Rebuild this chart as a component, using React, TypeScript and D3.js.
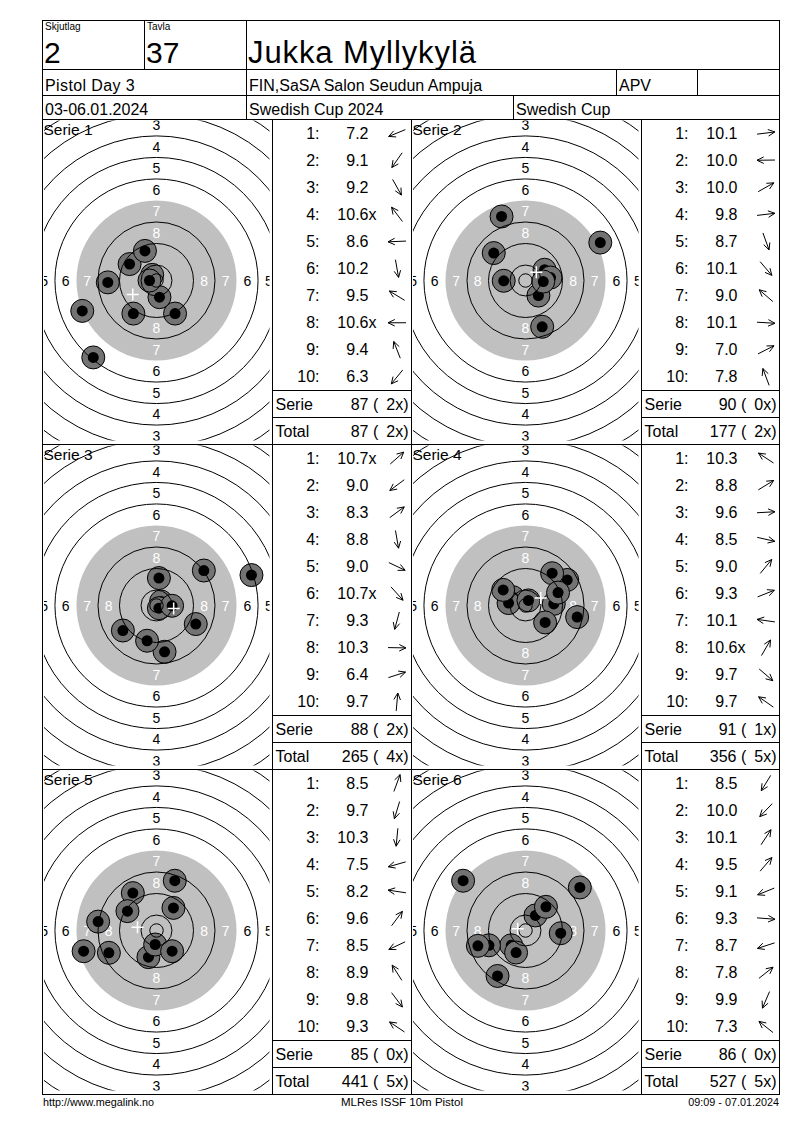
import * as d3 from "d3";

const FONT = "'Liberation Sans', Arial, sans-serif";

// header
const shooterName = "Jukka Myllykylä";
const relay = "2";
const lane = "37";
const eventName = "Pistol Day 3";
const clubName = "FIN,SaSA Salon Seudun Ampuja";
const classCode = "APV";
const dates = "03-06.01.2024";
const competition = "Swedish Cup 2024";
const cupName = "Swedish Cup";
const footerLeft = "http://www.megalink.no";
const footerMid = "MLRes ISSF 10m Pistol";
const footerRight = "09:09 - 07.01.2024";

// shot values per series ("x" = inner ten)
const series1Scores = ["7.2", "9.1", "9.2", "10.6x", "8.6", "10.2", "9.5", "10.6x", "9.4", "6.3"];
const series2Scores = ["10.1", "10.0", "10.0", "9.8", "8.7", "10.1", "9.0", "10.1", "7.0", "7.8"];
const series3Scores = ["10.7x", "9.0", "8.3", "8.8", "9.0", "10.7x", "9.3", "10.3", "6.4", "9.7"];
const series4Scores = ["10.3", "8.8", "9.6", "8.5", "9.0", "9.3", "10.1", "10.6x", "9.7", "9.7"];
const series5Scores = ["8.5", "9.7", "10.3", "7.5", "8.2", "9.6", "8.5", "8.9", "9.8", "9.3"];
const series6Scores = ["8.5", "10.0", "10.1", "9.5", "9.1", "9.3", "8.7", "7.8", "9.9", "7.3"];

// shot positions, mm from target centre (x right, y down)
const series1Shots = [[-27.6, 11.3], [-8.6, 12.3], [6.9, 12.3], [-1.6, -2.1], [-18.1, 0.7], [1.1, 6.2], [-10.0, -6.1], [-2.6, 0], [-4.3, -11.0], [-23.5, 28.6]];
const series2Shots = [[7.2, -0.9], [-8.1, 0.1], [7.1, -4.0], [9.3, -1.1], [6.2, 17.2], [4.8, 5.6], [-11.8, -10.2], [6.6, 0.4], [27.8, -14.1], [-8.9, -23.8]];
const series3Shots = [[1.7, -1.5], [-12.5, 9.3], [17.6, -13.0], [3.0, 17.2], [14.6, 6.9], [0.9, 1.0], [-3.5, 13.1], [5.8, 0.1], [35.3, -11.3], [0.9, -10.2]];
const series4Shots = [[-4.7, -3.1], [15.5, -9.5], [10.5, -0.6], [19.2, 4.3], [9.9, -12.0], [12.1, -4.8], [-6.3, -0.9], [1.1, -1.9], [7.3, 6.3], [-8.3, -5.8]];
const series5Shots = [[6.8, -18.5], [-3.0, 9.9], [-0.5, 5.2], [-27.1, 7.7], [-21.7, -3.3], [6.3, -8.4], [-17.7, 8.3], [-8.8, -13.9], [5.8, 7.7], [-10.8, -7.2]];
const series6Shots = [[-10.4, 16.9], [-5.3, 5.5], [3.7, -5.6], [7.6, -8.8], [-13.6, 5.5], [13.1, 1.0], [-17.7, 5.7], [20.2, -16.0], [-3.5, 8.2], [-23.2, -18.5]];

const allScores = [series1Scores, series2Scores, series3Scores, series4Scores, series5Scores, series6Scores];
const allShots = [series1Shots, series2Shots, series3Shots, series4Shots, series5Shots, series6Shots];

// ISSF 10m air pistol target, radii in mm
const ringLines = [2.5, 5.75, 13.75, 21.75, 37.75, 45.75, 53.75, 61.75, 69.75, 77.75];
const blackRadius = 29.75;
const ringLabels = [8, 7, 6, 5, 4, 3];

// layout
const L = 42.5, R = 779.5;
const headerY = [20.5, 69.5, 95.5, 119.5];
const rowH = 325;
const targetW = 230;
const tableW = [139, 138];

const mm = d3.scaleLinear().domain([0, 1]).range([0, 2.69]);

function fmt(total, xs) {
  return `${total} (${String(xs).padStart(2, "\u2002")}x)`;
}

function Arrow({ cx, cy, dx, dy }) {
  const a = Math.atan2(dy, dx);
  const len = 18, head = 7.5, spread = 0.45;
  const tx = cx + (len / 2) * Math.cos(a), ty = cy + (len / 2) * Math.sin(a);
  const sx = cx - (len / 2) * Math.cos(a), sy = cy - (len / 2) * Math.sin(a);
  const h1x = tx - head * Math.cos(a - spread), h1y = ty - head * Math.sin(a - spread);
  const h2x = tx - head * Math.cos(a + spread), h2y = ty - head * Math.sin(a + spread);
  return (
    <path
      d={`M${sx},${sy}L${tx},${ty}M${h1x},${h1y}L${tx},${ty}L${h2x},${h2y}`}
      fill="none"
      stroke="#000"
      strokeWidth={1}
    />
  );
}

function Target({ i, left, top }) {
  const cx = left + 114;
  const cy = top + 161;
  const shots = allShots[i];
  const meanX = d3.mean(shots, (d) => d[0]);
  const meanY = d3.mean(shots, (d) => d[1]);
  const clipId = `clip-${i}`;
  const labelR = (v) => mm(5.75 + (10 - v) * 8 - 4);
  return (
    <g>
      <clipPath id={clipId}>
        <rect x={left + 1.5} y={top + 1} width={targetW - 4.5} height={rowH - 5} />
      </clipPath>
      <g clipPath={`url(#${clipId})`}>
        <circle cx={cx} cy={cy} r={mm(blackRadius)} fill="#c0c0c0" />
        {ringLabels.map((v) => {
          const r = labelR(v);
          const fill = v >= 7 ? "#fff" : "#000";
          return [
            [0, -r], [0, r], [-r, 0], [r, 0],
          ].map(([ox, oy], k) => (
            <text
              key={`${v}-${k}`}
              x={cx + ox}
              y={cy + oy}
              dy="0.36em"
              textAnchor="middle"
              fontSize={14}
              fill={fill}
            >
              {v}
            </text>
          ));
        })}
        {shots.map(([x, y], k) => (
          <g key={k}>
            <circle cx={cx + mm(x)} cy={cy + mm(y)} r={11.5} fill="#737373" stroke="#000" strokeWidth={1} />
            <circle cx={cx + mm(x)} cy={cy + mm(y)} r={5.5} fill="#000" />
          </g>
        ))}
        {ringLines.map((r) => (
          <circle key={r} cx={cx} cy={cy} r={mm(r)} fill="none" stroke="#000" strokeWidth={1} />
        ))}
        <path
          d={`M${cx + mm(meanX) - 6},${cy + mm(meanY)}h12M${cx + mm(meanX)},${cy + mm(meanY) - 6}v12`}
          stroke="#fff"
          strokeWidth={1.5}
        />
      </g>
      <text x={left + 1} y={top + 15} fontSize={15.5} fill="#000">
        {`Serie ${i + 1}`}
      </text>
    </g>
  );
}

function ScoreTable({ i, left, top, width, serieText, totalText }) {
  const scores = allScores[i];
  const shots = allShots[i];
  const shotRowH = 27.1;
  const right = left + width;
  return (
    <g fontSize={16} fill="#000">
      {scores.map((s, k) => {
        const cy = top + shotRowH * (k + 0.5);
        const inner = s.endsWith("x");
        return (
          <g key={k}>
            <text x={left + 47} y={cy + 5.5} textAnchor="end">{`${k + 1}:`}</text>
            <text x={left + 96 + (inner ? 8 : 0)} y={cy + 5.5} textAnchor="end">{s}</text>
            <Arrow cx={left + 124.5} cy={cy} dx={shots[k][0]} dy={shots[k][1]} />
          </g>
        );
      })}
      <line x1={left} x2={right} y1={top + 271} y2={top + 271} stroke="#000" />
      <line x1={left} x2={right} y1={top + 298} y2={top + 298} stroke="#000" />
      <text x={left + 3} y={top + 290}>Serie</text>
      <text x={right - 3} y={top + 290} textAnchor="end">{serieText}</text>
      <text x={left + 3} y={top + 317}>Total</text>
      <text x={right - 3} y={top + 317} textAnchor="end">{totalText}</text>
    </g>
  );
}

export default function App() {
  let runTotal = 0;
  let runX = 0;
  const panels = allScores.map((scores, i) => {
    const serie = d3.sum(scores, (s) => Math.floor(parseFloat(s)));
    const xs = scores.filter((s) => s.endsWith("x")).length;
    runTotal += serie;
    runX += xs;
    const col = i % 2;
    const row = Math.floor(i / 2);
    const top = headerY[3] + row * rowH;
    const tLeft = col === 0 ? L : L + targetW + tableW[0];
    const tabLeft = tLeft + targetW;
    return { i, top, tLeft, tabLeft, tabW: tableW[col], serieText: fmt(serie, xs), totalText: fmt(runTotal, runX) };
  });
  const bottom = headerY[3] + 3 * rowH;

  return (
    <svg
      width={800}
      height={1130}
      style={{ position: "absolute", left: 0, top: 0 }}
      fontFamily={FONT}
    >
      <rect width={800} height={1130} fill="#fff" />
      {panels.map((p) => (
        <g key={p.i}>
          <Target i={p.i} left={p.tLeft} top={p.top} />
          <ScoreTable i={p.i} left={p.tabLeft} top={p.top} width={p.tabW} serieText={p.serieText} totalText={p.totalText} />
          <line x1={p.tabLeft} x2={p.tabLeft} y1={p.top} y2={p.top + rowH} stroke="#000" />
        </g>
      ))}
      {[1, 2].map((r) => (
        <line key={r} x1={L} x2={R} y1={headerY[3] + r * rowH} y2={headerY[3] + r * rowH} stroke="#000" />
      ))}
      <line x1={L + targetW + tableW[0]} x2={L + targetW + tableW[0]} y1={headerY[3]} y2={bottom} stroke="#000" />

      {/* header grid */}
      <rect x={L} y={headerY[0]} width={R - L} height={bottom - headerY[0]} fill="none" stroke="#000" />
      {headerY.slice(1).map((y) => (
        <line key={y} x1={L} x2={R} y1={y} y2={y} stroke="#000" />
      ))}
      <line x1={144.5} x2={144.5} y1={headerY[0]} y2={headerY[1]} stroke="#000" />
      <line x1={246.5} x2={246.5} y1={headerY[0]} y2={headerY[3]} stroke="#000" />
      <line x1={616.5} x2={616.5} y1={headerY[1]} y2={headerY[2]} stroke="#000" />
      <line x1={697.5} x2={697.5} y1={headerY[1]} y2={headerY[2]} stroke="#000" />
      <line x1={513.5} x2={513.5} y1={headerY[2]} y2={headerY[3]} stroke="#000" />

      <text x={45} y={30} fontSize={10}>Skjutlag</text>
      <text x={147} y={30} fontSize={10}>Tavla</text>
      <text x={44} y={63} fontSize={30}>{relay}</text>
      <text x={146} y={63} fontSize={30}>{lane}</text>
      <text x={248} y={63} fontSize={31} letterSpacing={0.9}>{shooterName}</text>
      <text x={45} y={91} fontSize={16} letterSpacing={0.4}>{eventName}</text>
      <text x={249} y={91} fontSize={16}>{clubName}</text>
      <text x={619} y={91} fontSize={16}>{classCode}</text>
      <text x={45} y={115} fontSize={16}>{dates}</text>
      <text x={249} y={115} fontSize={16}>{competition}</text>
      <text x={516} y={115} fontSize={16}>{cupName}</text>

      <text x={43} y={1106} fontSize={10.8}>{footerLeft}</text>
      <text x={402} y={1106} fontSize={11.5} textAnchor="middle">{footerMid}</text>
      <text x={779} y={1106} fontSize={10.8} textAnchor="end">{footerRight}</text>
    </svg>
  );
}
